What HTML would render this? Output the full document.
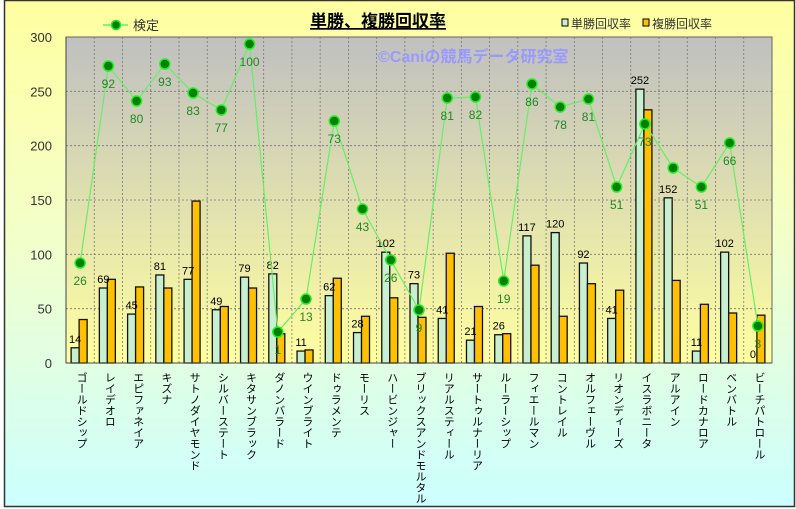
<!DOCTYPE html>
<html><head><meta charset="utf-8"><style>
html,body{margin:0;padding:0;width:796px;height:509px;overflow:hidden;background:#fff}
svg{display:block}
text{font-family:"Liberation Sans","Noto Sans CJK JP",sans-serif}
</style></head><body>
<svg id="s" width="796" height="509" xmlns="http://www.w3.org/2000/svg">
<defs>
<linearGradient id="bg" x1="0" y1="0" x2="0" y2="1">
<stop offset="0" stop-color="#ffffa0"/><stop offset="0.45" stop-color="#f4ffc8"/><stop offset="1" stop-color="#ccffff"/></linearGradient>
<linearGradient id="pa" x1="0" y1="0" x2="0" y2="1">
<stop offset="0" stop-color="#c0c0c0"/><stop offset="1" stop-color="#ffffa0"/></linearGradient>
</defs>
<rect x="4.5" y="0.5" width="790" height="506" fill="url(#bg)" stroke="#333" stroke-width="1.5"/>
<rect x="66" y="37" width="706" height="326" fill="url(#pa)" stroke="#666"/>
<g id="g"></g>
<text x="378" y="27" font-size="17" font-weight="bold" text-anchor="middle" text-decoration="underline" fill="#000">単勝、複勝回収率</text>
<text x="378" y="62" font-size="16" font-weight="bold" fill="#9999ff">©Caniの競馬データ研究室</text>
<line x1="103" y1="25" x2="128" y2="25" stroke="#66ee66" stroke-width="1.5"/>
<circle cx="116" cy="25" r="4.5" fill="#008000" stroke="#22ee22" stroke-width="1.5"/>
<text x="133" y="30" font-size="13" fill="#333">検定</text>
<rect x="562" y="19" width="6" height="7" fill="#c8f0d0" stroke="#000"/>
<text x="571" y="28" font-size="12" fill="#333">単勝回収率</text>
<rect x="643" y="19" width="6" height="7" fill="#ffc000" stroke="#000"/>
<text x="652" y="28" font-size="12" fill="#333">複勝回収率</text>
</svg>
<script>
var names=["ゴールドシップ","レイデオロ","エピファネイア","キズナ","サトノダイヤモンド","シルバーステート","キタサンブラック","ダノンバラード","ウインブライト","ドゥラメンテ","モーリス","ハービンジャー","ブリックスアンドモルタル","リアルスティール","サートゥルナーリア","ルーラーシップ","フィエールマン","コントレイル","オルフェーヴル","リオンディーズ","イスラボニータ","アルアイン","ロードカナロア","ベンバトル","ビーチパトロール"];
var win=[14,69,45,81,77,49,79,82,11,62,28,102,73,41,21,26,117,120,92,41,252,152,11,102,0];
var plc=[40,77,70,69,149,52,69,27,12,78,43,60,42,101,52,27,90,43,73,67,233,76,54,46,44];
var ly=[263,66,101,64,93,110,44,332,299,121,209,260,310,98,97,281,84,107,99,187,124,168,187,143,326];
var ll=["26","92","80","93","83","77","100","1","13","73","43","26","9","81","82","19","86","78","81","51","73","","51","66","3"];
var g=document.getElementById('g'),h='';
var X0=66,W=28.24,Y0=363,K=326/300;
for(var v=50;v<300;v+=50){var y=Y0-v*K;h+='<line x1="66" y1="'+y+'" x2="772" y2="'+y+'" stroke="#777" stroke-dasharray="2,2" stroke-width="0.8"/>';}
for(var i=1;i<25;i++){var x=X0+i*W;h+='<line x1="'+x+'" y1="37" x2="'+x+'" y2="363" stroke="#777" stroke-dasharray="2,2" stroke-width="0.8"/>';}
for(var v=0;v<=300;v+=50){h+='<text x="52" y="'+(Y0-v*K+5)+'" font-size="13" text-anchor="end" fill="#333">'+v+'</text>';}
for(var i=0;i<25;i++){var c=X0+(i+0.5)*W;
var hw=win[i]*K,hp=plc[i]*K;
h+='<rect x="'+(c-9)+'" y="'+(Y0-hw)+'" width="8" height="'+hw+'" fill="#c8f0d0" stroke="#111" stroke-width="1.3"/>';
h+='<rect x="'+(c-1)+'" y="'+(Y0-hp)+'" width="8" height="'+hp+'" fill="#ffc000" stroke="#111" stroke-width="1.3"/>';
h+='<text x="'+(c-5)+'" y="'+(Y0-hw-5)+'" font-size="11" text-anchor="middle" fill="#000">'+win[i]+'</text>';
h+='<text transform="translate('+(c+1)+',372)" font-size="11" fill="#000" style="writing-mode:vertical-rl">'+names[i]+'</text>';}
var p='';for(var i=0;i<25;i++){p+=(i?'L':'M')+(X0+(i+0.5)*W)+','+ly[i];}
h+='<path d="'+p+'" fill="none" stroke="#66ee66" stroke-width="1.2"/>';
for(var i=0;i<25;i++){var c=X0+(i+0.5)*W;
h+='<circle cx="'+c+'" cy="'+ly[i]+'" r="5" fill="#008000" stroke="#22ee22" stroke-width="1.5"/>';
h+='<text x="'+c+'" y="'+(ly[i]+22)+'" font-size="12" text-anchor="middle" fill="#228822">'+ll[i]+'</text>';}
h+='<line x1="66" y1="363" x2="772" y2="363" stroke="#444"/><line x1="66" y1="37" x2="66" y2="363" stroke="#444"/>';
g.innerHTML=h;
</script>
</body></html>
